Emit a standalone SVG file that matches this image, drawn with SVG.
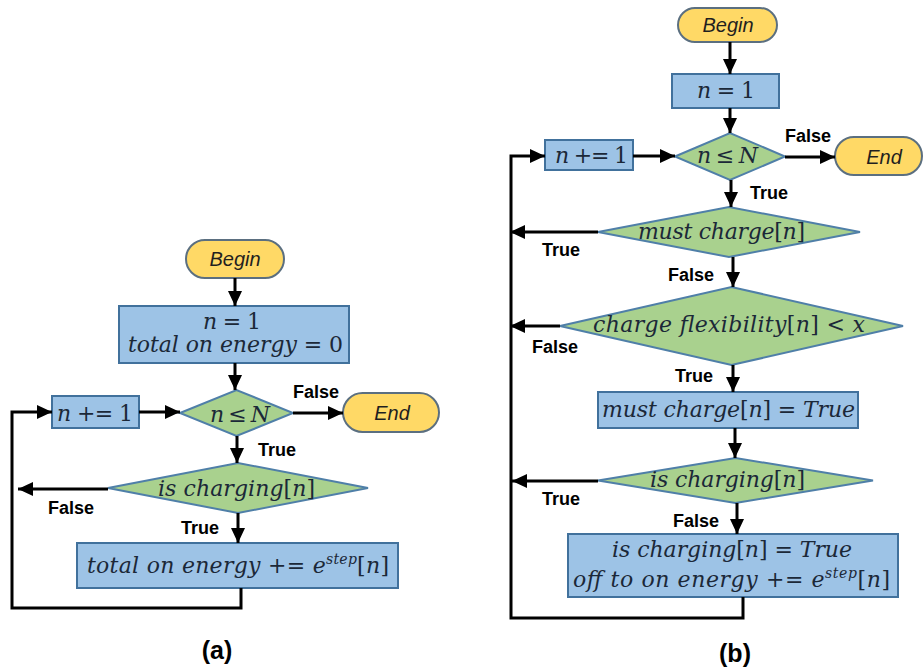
<svg xmlns="http://www.w3.org/2000/svg" width="924" height="672" viewBox="0 0 924 672">
  <defs>
    <marker id="arrow" markerUnits="userSpaceOnUse" markerWidth="16" markerHeight="16" viewBox="0 0 16 16" refX="15" refY="8" orient="auto">
      <path d="M0,1 L15,8 L0,15 Z" fill="#000"/>
    </marker>
    <style>
      .pill { fill: #FFD966; stroke: #5b6f80; stroke-width: 2; }
      .box { fill: #9DC3E6; stroke: #41719C; stroke-width: 2; }
      .dia { fill: #A9D18E; stroke: #4f7fa8; stroke-width: 2; }
      .term { font-family: "Liberation Sans", Arial, sans-serif; font-style: italic; font-size: 20px; fill: #1f1f1f; text-anchor: middle; }
      .m { font-family: "DejaVu Serif", "Liberation Serif", serif; font-style: italic; font-size: 22px; fill: #1b2838; }
      .u { font-style: normal; }
      .sup { font-size: 14px; }
      .lbl { font-family: "Liberation Sans", Arial, sans-serif; font-weight: bold; font-size: 18px; fill: #000; }
      .cap { font-family: "Liberation Sans", Arial, sans-serif; font-weight: bold; font-size: 25px; fill: #000; text-anchor: middle; }
      .arr { fill: none; stroke: #000; stroke-width: 3; marker-end: url(#arrow); }
    </style>
  </defs>
  <rect width="924" height="672" fill="#fff"/>

  <!-- ===== Flowchart (a) ===== -->
  <g id="a-begin">
    <rect class="pill" x="186" y="240" width="98" height="38" rx="19"/>
    <text class="term" x="235" y="266">Begin</text>
  </g>
  <g id="a-init">
    <rect class="box" x="119" y="306" width="230" height="57"/>
    <text class="m" x="203" y="329" textLength="58" lengthAdjust="spacing">n<tspan class="u"> = 1</tspan></text>
    <text class="m" x="128" y="352" textLength="215" lengthAdjust="spacing">total on energy<tspan class="u"> = 0</tspan></text>
  </g>
  <g id="a-inc">
    <rect class="box" x="52" y="396" width="87" height="32"/>
    <text class="m" x="57" y="421" textLength="76" lengthAdjust="spacing">n<tspan class="u"> += 1</tspan></text>
  </g>
  <g id="a-cond">
    <polygon class="dia" points="180,413 236.5,390 293,413 236.5,436"/>
    <text class="m" x="210" y="422" textLength="60" lengthAdjust="spacing">n<tspan class="u"> ≤ </tspan>N</text>
  </g>
  <g id="a-end">
    <rect class="pill" x="343" y="393" width="96" height="39" rx="19.5"/>
    <text class="term" x="392" y="420">End</text>
  </g>
  <g id="a-charging">
    <polygon class="dia" points="108,488 238,463 368,488 238,513"/>
    <text class="m" x="158" y="496" textLength="157" lengthAdjust="spacing">is charging<tspan class="u">[</tspan>n<tspan class="u">]</tspan></text>
  </g>
  <g id="a-accum">
    <rect class="box" x="77" y="543" width="321" height="45"/>
    <text class="m" x="87" y="573" textLength="302" lengthAdjust="spacing">total on energy<tspan class="u"> += </tspan>e<tspan class="sup" dy="-9">step</tspan><tspan class="u" dy="9">[</tspan>n<tspan class="u">]</tspan></text>
  </g>

  <g id="a-connectors">
    <line class="arr" x1="235" y1="278" x2="235" y2="306"/>
    <line class="arr" x1="235" y1="363" x2="235" y2="390"/>
    <line class="arr" x1="139" y1="412" x2="180" y2="412"/>
    <line class="arr" x1="293" y1="413" x2="343" y2="413"/>
    <line class="arr" x1="237" y1="436" x2="237" y2="463"/>
    <line class="arr" x1="108" y1="489" x2="18" y2="489"/>
    <line class="arr" x1="238" y1="513" x2="238" y2="543"/>
    <polyline class="arr" points="241,588 241,608 12,608 12,412 52,412"/>
    <text class="lbl" x="293" y="398">False</text>
    <text class="lbl" x="258" y="456">True</text>
    <text class="lbl" x="48" y="514">False</text>
    <text class="lbl" x="181" y="534">True</text>
  </g>
  <text class="cap" x="217" y="659">(a)</text>

  <!-- ===== Flowchart (b) ===== -->
  <g id="b-begin">
    <rect class="pill" x="678" y="8" width="99" height="34" rx="17"/>
    <text class="term" x="728" y="32">Begin</text>
  </g>
  <g id="b-init">
    <rect class="box" x="672" y="74" width="107" height="34"/>
    <text class="m" x="697" y="98" textLength="58" lengthAdjust="spacing">n<tspan class="u"> = 1</tspan></text>
  </g>
  <g id="b-inc">
    <rect class="box" x="545" y="140" width="88" height="30"/>
    <text class="m" x="555" y="163" textLength="73" lengthAdjust="spacing">n<tspan class="u"> += 1</tspan></text>
  </g>
  <g id="b-cond">
    <polygon class="dia" points="675,156.5 730,133 785,156.5 730,180"/>
    <text class="m" x="697" y="163" textLength="61" lengthAdjust="spacing">n<tspan class="u"> ≤ </tspan>N</text>
  </g>
  <g id="b-end">
    <rect class="pill" x="835" y="137" width="87" height="38" rx="19"/>
    <text class="term" x="884" y="164">End</text>
  </g>
  <g id="b-must">
    <polygon class="dia" points="598,232 729,207 860,232 729,257"/>
    <text class="m" x="638" y="239" textLength="167" lengthAdjust="spacing">must charge<tspan class="u">[</tspan>n<tspan class="u">]</tspan></text>
  </g>
  <g id="b-flex">
    <polygon class="dia" points="560,326 731.5,287 903,326 731.5,365"/>
    <text class="m" x="593" y="332" textLength="272" lengthAdjust="spacing">charge flexibility<tspan class="u">[</tspan>n<tspan class="u">] &lt; </tspan>x</text>
  </g>
  <g id="b-setmust">
    <rect class="box" x="598" y="392" width="260" height="36"/>
    <text class="m" x="602" y="417" textLength="253" lengthAdjust="spacing">must charge<tspan class="u">[</tspan>n<tspan class="u">] = </tspan>True</text>
  </g>
  <g id="b-charging">
    <polygon class="dia" points="598,480.5 735.5,458 873,480.5 735.5,503"/>
    <text class="m" x="650" y="487" textLength="155" lengthAdjust="spacing">is charging<tspan class="u">[</tspan>n<tspan class="u">]</tspan></text>
  </g>
  <g id="b-update">
    <rect class="box" x="568" y="534" width="330" height="63"/>
    <text class="m" x="612" y="557" textLength="240" lengthAdjust="spacing">is charging<tspan class="u">[</tspan>n<tspan class="u">] = </tspan>True</text>
    <text class="m" x="573" y="587" textLength="317" lengthAdjust="spacing">off to on energy<tspan class="u"> += </tspan>e<tspan class="sup" dy="-9">step</tspan><tspan class="u" dy="9">[</tspan>n<tspan class="u">]</tspan></text>
  </g>

  <g id="b-connectors">
    <line class="arr" x1="730" y1="42" x2="730" y2="74"/>
    <line class="arr" x1="730" y1="108" x2="730" y2="133"/>
    <line class="arr" x1="633" y1="156" x2="675" y2="156"/>
    <line class="arr" x1="785" y1="157" x2="835" y2="157"/>
    <line class="arr" x1="731" y1="180" x2="731" y2="207"/>
    <line class="arr" x1="598" y1="232" x2="510" y2="232"/>
    <line class="arr" x1="733" y1="257" x2="733" y2="287"/>
    <line class="arr" x1="560" y1="326" x2="510" y2="326"/>
    <line class="arr" x1="733" y1="365" x2="733" y2="392"/>
    <line class="arr" x1="735" y1="428" x2="735" y2="458"/>
    <line class="arr" x1="598" y1="481" x2="512" y2="481"/>
    <line class="arr" x1="737" y1="503" x2="737" y2="534"/>
    <polyline class="arr" points="743,597 743,618 511,618 511,156 545,156"/>
    <text class="lbl" x="785" y="142">False</text>
    <text class="lbl" x="750" y="199">True</text>
    <text class="lbl" x="542" y="256">True</text>
    <text class="lbl" x="668" y="281">False</text>
    <text class="lbl" x="532" y="353">False</text>
    <text class="lbl" x="675" y="382">True</text>
    <text class="lbl" x="542" y="505">True</text>
    <text class="lbl" x="673" y="527">False</text>
  </g>
  <text class="cap" x="735" y="662">(b)</text>
</svg>
